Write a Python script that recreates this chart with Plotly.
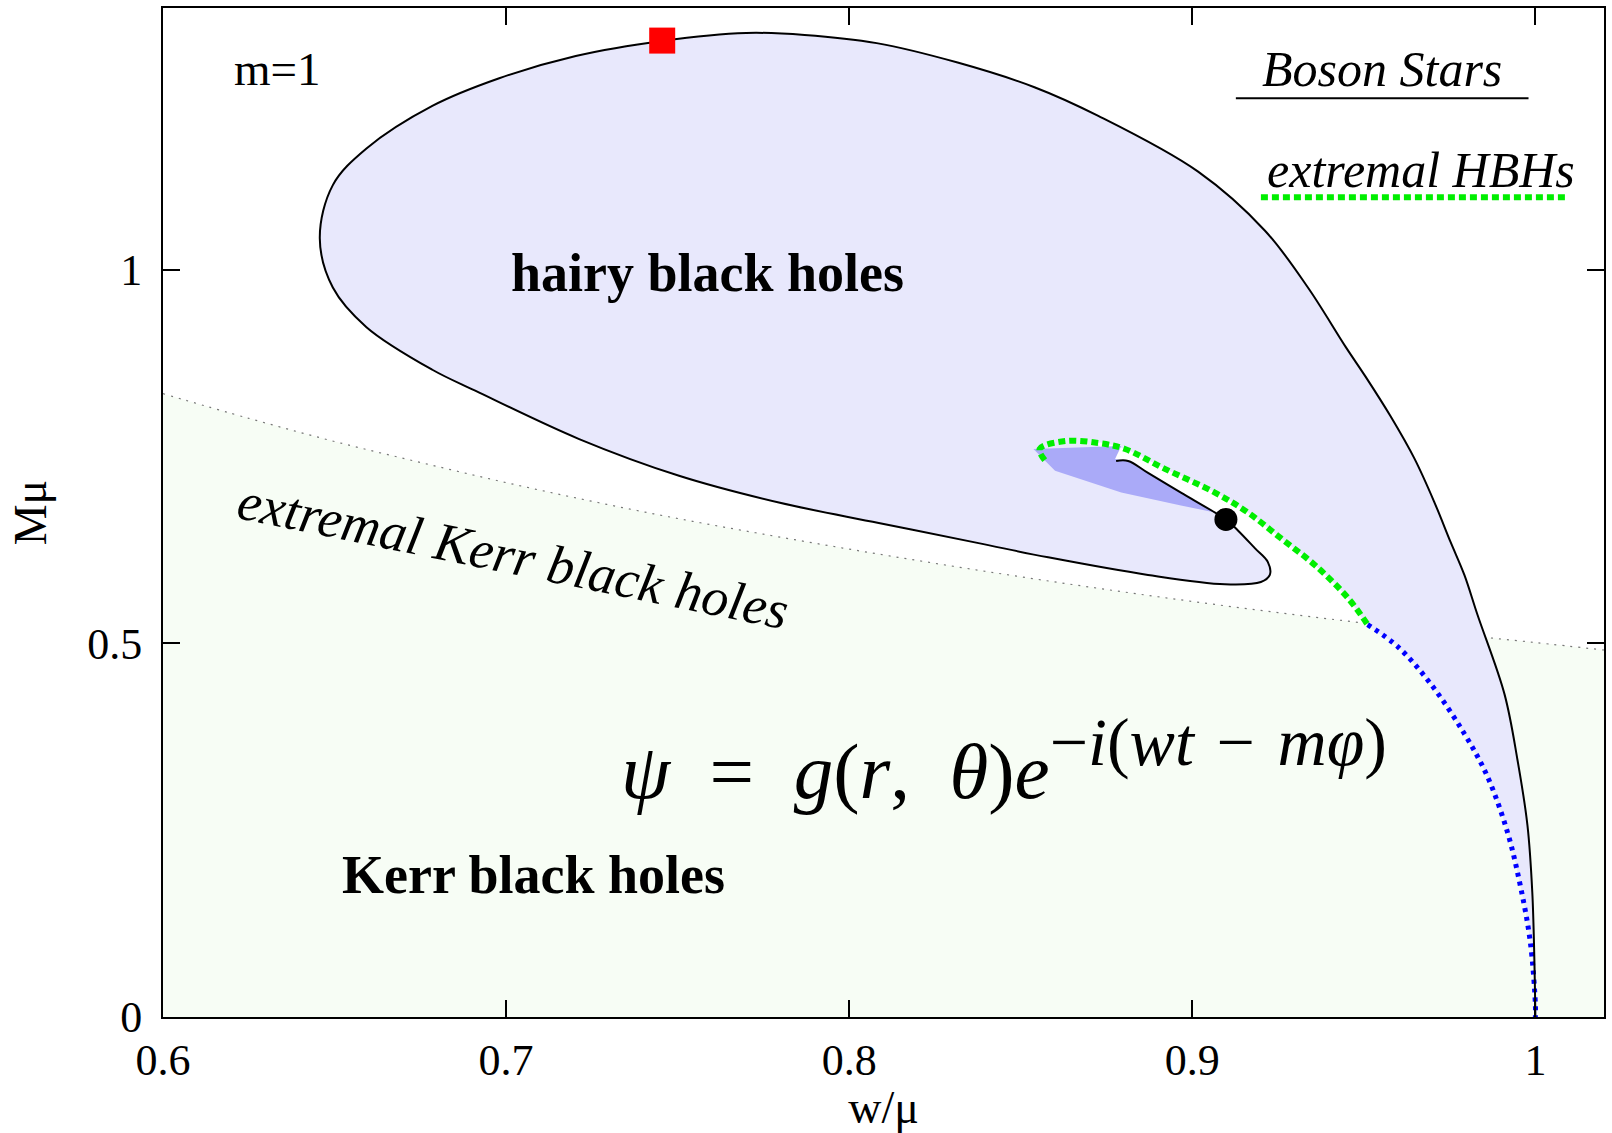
import plotly.graph_objects as go

# ---------------- data ----------------
# Boson star curve (solid black), from (1,0) round the spiral
bs_w = [1.0, 0.9997, 0.9991, 0.9977, 0.9948, 0.991, 0.9831, 0.9793, 0.9753, 0.9706,
        0.9648, 0.9578, 0.9505, 0.9447, 0.9337, 0.9212, 0.9017, 0.8726, 0.854, 0.8316,
        0.808, 0.787, 0.770, 0.7455, 0.7203, 0.698, 0.6785, 0.6593, 0.6495, 0.6457,
        0.6495, 0.6593, 0.6785, 0.691, 0.7213, 0.7504, 0.7795, 0.8086, 0.8377, 0.858,
        0.8871, 0.9095, 0.920, 0.9226, 0.922, 0.9183, 0.9133, 0.9098, 0.9055, 0.8967,
        0.8871, 0.8813, 0.8778]
bs_M = [0.0, 0.078, 0.167, 0.256, 0.3435, 0.432, 0.5385, 0.5915, 0.6353, 0.6883,
        0.7467, 0.8037, 0.8568, 0.8966, 0.976, 1.052, 1.131, 1.2056, 1.244, 1.277,
        1.303, 1.314, 1.3166, 1.306, 1.2858, 1.256, 1.219, 1.162, 1.113, 1.042,
        0.976, 0.923, 0.866, 0.838, 0.7732, 0.7241, 0.6883, 0.661, 0.634, 0.615,
        0.5915, 0.579, 0.582, 0.5915, 0.609, 0.627, 0.651, 0.6658, 0.678, 0.7016,
        0.728, 0.744, 0.744]

# extremal hairy black holes (green dotted)
ehbh_w = [0.857, 0.8555, 0.863, 0.8726, 0.8804, 0.892, 0.9066, 0.9162,
          0.9258, 0.9357, 0.9453, 0.9511]
ehbh_M = [0.745, 0.760, 0.7706, 0.768, 0.760, 0.7334, 0.7016, 0.675,
          0.6406, 0.6048, 0.561, 0.525]

# Kerr-limit branch (blue dotted)
kl_w = [0.9511, 0.960, 0.9695, 0.9793, 0.986, 0.9919, 0.9956, 0.9985, 1.0, 1.0]
kl_M = [0.525, 0.495, 0.4456, 0.379, 0.322, 0.2467, 0.176, 0.101, 0.017, 0.0]

# extremal Kerr black holes (thin dotted)
ek_w = [0.60, 0.625, 0.65, 0.675, 0.70, 0.725, 0.75, 0.775, 0.80, 0.825, 0.85, 0.875,
        0.90, 0.925, 0.95, 0.975, 1.00, 1.02]
ek_M = [0.834, 0.801, 0.770, 0.742, 0.715, 0.690, 0.667, 0.646, 0.626, 0.607, 0.589,
        0.572, 0.556, 0.541, 0.527, 0.513, 0.501, 0.491]

# darker patch near the extremal end
patch_w = [0.8537, 0.8793, 0.8775, 0.8813, 0.8871, 0.8967, 0.9066, 0.8967, 0.8793, 0.860, 0.8537]
patch_M = [0.760, 0.764, 0.7467, 0.744, 0.728, 0.7016, 0.675, 0.6844, 0.7016, 0.7308, 0.760]

# special points
dot_w, dot_M = [0.9098], [0.6658]
sq_w, sq_M = [0.7455], [1.3064]

# legend samples
leg_bs_w, leg_bs_M = [0.9127, 0.998], [1.2294, 1.2294]
leg_eh_w, leg_eh_M = [0.920, 1.0093], [1.0968, 1.0968]

x_ticks = [0.6, 0.7, 0.8, 0.9, 1.0]
x_ticklabels = ["0.6", "0.7", "0.8", "0.9", "1"]
y_ticks = [0, 0.5, 1.0]
y_ticklabels = ["0", "0.5", "1"]

LAVENDER = "#E8E8FC"
KERR_FILL = "#F7FDF5"
PATCH = "#AAAAF8"
GREEN = "#00EE00"
SERIF = "Liberation Serif, Times New Roman, serif"
SM = 1.0

fig = go.Figure()

# Kerr region + extremal Kerr line
fig.add_trace(go.Scatter(x=ek_w, y=ek_M, mode="lines", fill="tozeroy", fillcolor=KERR_FILL,
                         line=dict(color="#777777", width=1.2, dash="2px,6px", shape="spline"),
                         hoverinfo="skip", showlegend=False))

# hairy black hole region
hair_w = bs_w + ehbh_w[3:] + kl_w[1:]
hair_M = bs_M + ehbh_M[3:] + kl_M[1:]
fig.add_trace(go.Scatter(x=hair_w, y=hair_M, mode="lines", fill="toself", fillcolor=LAVENDER,
                         line=dict(width=0, color=LAVENDER, shape="spline", smoothing=SM),
                         hoverinfo="skip", showlegend=False))

# darker patch
fig.add_trace(go.Scatter(x=patch_w, y=patch_M, mode="lines", fill="toself", fillcolor=PATCH,
                         line=dict(width=0, color=PATCH),
                         hoverinfo="skip", showlegend=False))

# green extremal HBH line
fig.add_trace(go.Scatter(x=ehbh_w, y=ehbh_M, mode="lines",
                         line=dict(color=GREEN, width=6, dash="7px,4px", shape="spline", smoothing=SM),
                         hoverinfo="skip", showlegend=False))
# blue dotted line
fig.add_trace(go.Scatter(x=kl_w, y=kl_M, mode="lines",
                         line=dict(color="#0000FF", width=5, dash="4px,5px", shape="spline", smoothing=SM),
                         hoverinfo="skip", showlegend=False))

# boson star curve
fig.add_trace(go.Scatter(x=bs_w, y=bs_M, mode="lines",
                         line=dict(color="black", width=2, shape="spline", smoothing=SM),
                         hoverinfo="skip", showlegend=False))

# markers
fig.add_trace(go.Scatter(x=dot_w, y=dot_M, mode="markers",
                         marker=dict(color="black", size=23, line=dict(width=0)),
                         hoverinfo="skip", showlegend=False))
fig.add_trace(go.Scatter(x=sq_w, y=sq_M, mode="markers",
                         marker=dict(color="#FF0000", size=26, symbol="square", line=dict(width=0)),
                         hoverinfo="skip", showlegend=False))

# legend samples
fig.add_trace(go.Scatter(x=leg_bs_w, y=leg_bs_M, mode="lines", line=dict(color="black", width=2),
                         hoverinfo="skip", showlegend=False))
fig.add_trace(go.Scatter(x=leg_eh_w, y=leg_eh_M, mode="lines",
                         line=dict(color=GREEN, width=6, dash="7px,4px"),
                         hoverinfo="skip", showlegend=False))

ann = []
def txt(x, y, s, size, angle=0, xanchor="center"):
    ann.append(dict(x=x, y=y, xref="x", yref="y", text=s, showarrow=False,
                    font=dict(family=SERIF, size=size, color="black"),
                    textangle=angle, xanchor=xanchor, yanchor="middle"))

txt(0.6335, 1.268, "m=1", 47)
txt(0.7588, 0.995, "<b>hairy black holes</b>", 54)
txt(0.7079, 0.190, "<b>Kerr black holes</b>", 54)
txt(0.7021, 0.617, "<i>extremal Kerr black holes</i>", 54, angle=11.5)
txt(0.9552, 1.268, "<i>Boson Stars</i>", 50)
txt(0.9668, 1.133, "<i>extremal HBHs</i>", 50)
# wave-function ansatz
txt(0.7329, 0.345,
    "<i>ψ</i>\u2002=\u2002<i>g</i>(<i>r</i>,\u2002<i>θ</i>)<i>e</i>"
    "<sup><span style=\"font-size:68px\">−<i>i</i>(<i>wt</i>\u2004−\u2004<i>mφ</i>)</span></sup>",
    79, xanchor="left")

fig.update_layout(
    width=1612, height=1133,
    margin=dict(l=163, r=6, t=8, b=107),
    paper_bgcolor="white", plot_bgcolor="white",
    font=dict(family=SERIF, size=44, color="black"),
    annotations=ann,
    showlegend=False,
)
fig.update_xaxes(range=[0.6, 1.02], tickvals=x_ticks, ticktext=x_ticklabels,
                 ticks="inside", ticklen=17, tickwidth=2, tickcolor="black",
                 showline=True, linewidth=2, linecolor="black", mirror="ticks",
                 showgrid=False, zeroline=False, ticklabelstandoff=3,
                 tickfont=dict(family=SERIF, size=44),
                 title=dict(text="w/μ", font=dict(family=SERIF, size=46), standoff=10))
fig.update_yaxes(range=[0, 1.35], tickvals=y_ticks, ticktext=y_ticklabels,
                 ticks="inside", ticklen=17, tickwidth=2, tickcolor="black",
                 showline=True, linewidth=2, linecolor="black", mirror="ticks",
                 showgrid=False, zeroline=False, ticklabelstandoff=10,
                 tickfont=dict(family=SERIF, size=44),
                 title=dict(text="Mμ", font=dict(family=SERIF, size=46), standoff=26))

fig.write_html("out.html")
